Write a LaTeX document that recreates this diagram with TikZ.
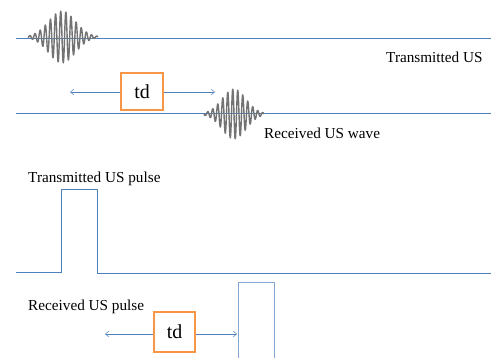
\documentclass[tikz,border=0pt]{standalone}
\usepackage{fontspec}
\setmainfont{Liberation Serif}
\usetikzlibrary{arrows.meta, positioning}

\definecolor{sigblue}{RGB}{79,129,189}
\definecolor{tdorange}{RGB}{247,150,70}

\begin{document}
\begin{tikzpicture}[
    x=0.03cm, y=-0.03cm,
    sig/.style={draw=sigblue, line width=0.8pt},
    wave/.style={draw=black!55, line width=1.2pt, line join=round},
    tdbox/.style={draw=tdorange, line width=1.8pt, fill=white,
                  minimum width=1.25cm, minimum height=1.12cm,
                  inner sep=0pt, font=\fontsize{17}{19}\selectfont},
    lbl/.style={font=\fontsize{13}{15}\selectfont, inner sep=0pt,
                anchor=base west},
    >={Straight Barb[length=3pt, width=5pt]}
  ]
  \useasboundingbox (0,0) rectangle (491,358);

  % ultrasound waves
  \draw[sig] (16,38) -- (491,38);
  \draw[sig] (16,113) -- (491,113);
  \draw[wave] plot[domain=-34:36, samples=350]
    ({62+\x}, {37+26*exp(-(\x/19)^2)*sin(\x*70)});
  \draw[wave] plot[domain=-30:30, samples=300]
    ({234+\x}, {114+25*exp(-(\x/17)^2)*sin(\x*72)});

  \node[lbl] (txus) at (386,62) {Transmitted US};
  \node[lbl] (rxus) at (264,138) {Received US wave};

  \node[tdbox] (td1) at (142,91.5) {td};
  \coordinate (td1l) at (70,92);
  \coordinate (td1r) at (215,92);
  \draw[->, sigblue] (td1.west |- td1l) -- (td1l);
  \draw[->, sigblue] (td1.east |- td1r) -- (td1r);

  % pulses
  \node[lbl] (txp) at (28,182) {Transmitted US pulse};
  \draw[sig] (16,272) -- (61,272) -- (61,189) -- (97,189)
    -- (97,273) -- (491,273);

  \node[lbl] (rxp) at (28,310) {Received US pulse};
  \draw[sig, draw=sigblue!70] (238,358) -- (238,282) -- (274,282) -- (274,358);

  \node[tdbox, minimum height=1.2cm] (td2) at (174.5,332) {td};
  \coordinate (td2l) at (105,334);
  \coordinate (td2r) at (237,334);
  \draw[->, sigblue] (td2.west |- td2l) -- (td2l);
  \draw[->, sigblue] (td2.east |- td2r) -- (td2r);
\end{tikzpicture}
\end{document}
